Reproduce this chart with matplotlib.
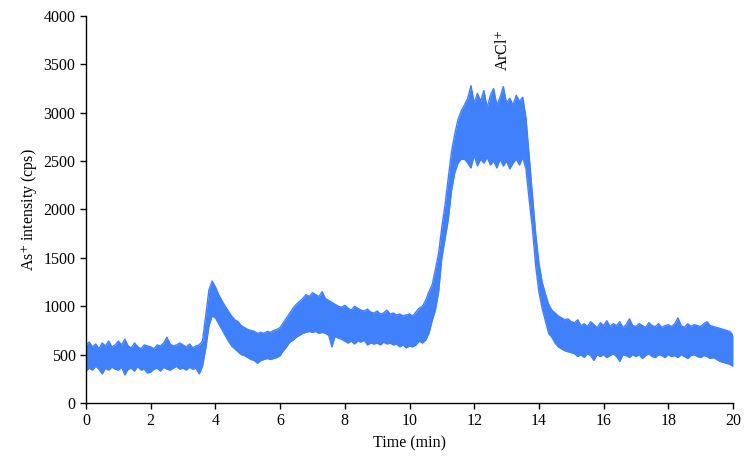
import numpy as np
import matplotlib
matplotlib.use("Agg")
import matplotlib.pyplot as plt

# Time axis, 0.1 min steps (0 .. 20 min)
time_min = np.round(np.arange(0, 20.05, 0.1), 1)

# Upper / lower edges of the noisy As+ trace (cps)
upper = [
    600, 630, 580, 610, 560, 620, 590, 640, 580, 600,   # 0
    640, 600, 660, 590, 570, 620, 580, 560, 600, 590,   # 1
    580, 560, 600, 590, 620, 680, 610, 590, 600, 620,   # 2
    600, 580, 610, 570, 590, 600, 640, 900, 1170, 1260,  # 3
    1200, 1120, 1060, 1000, 950, 900, 860, 840, 800, 780,  # 4
    760, 750, 740, 720, 730, 720, 740, 730, 750, 760,   # 5
    780, 830, 880, 930, 980, 1020, 1050, 1080, 1120, 1100,  # 6
    1140, 1120, 1100, 1150, 1080, 1060, 1040, 1020, 1000, 990,  # 7
    1010, 980, 960, 1000, 980, 960, 950, 970, 940, 930,  # 8
    950, 920, 930, 960, 920, 930, 910, 920, 900, 910,   # 9
    920, 900, 940, 980, 1000, 1060, 1150, 1220, 1380, 1550,  # 10
    1820, 2050, 2330, 2600, 2780, 2930, 3020, 3080, 3150, 3280,  # 11
    3100, 3200, 3120, 3230, 3050, 3180, 3250, 3080, 3160, 3270,  # 12
    3100, 3150, 3080, 3180, 3120, 3160, 2950, 2550, 2150, 1750,  # 13
    1450, 1250, 1130, 1020, 960, 930, 900, 880, 860, 870,  # 14
    840, 830, 860, 800, 820, 790, 840, 810, 780, 830,   # 15
    800, 850, 790, 820, 800, 840, 780, 810, 870, 800,   # 16
    790, 820, 800, 780, 830, 800, 790, 820, 780, 800,   # 17
    810, 790, 820, 880, 800, 780, 820, 790, 810, 800,   # 18
    790, 820, 840, 800, 790, 780, 770, 760, 750, 740,   # 19
    700,
]
lower = [
    330, 360, 340, 380, 350, 300, 360, 340, 370, 350,   # 0
    340, 370, 290, 350, 360, 330, 380, 340, 350, 310,   # 1
    320, 350, 360, 330, 370, 350, 340, 360, 380, 350,   # 2
    360, 340, 370, 350, 360, 300, 380, 560, 800, 900,   # 3
    880, 820, 760, 700, 640, 590, 560, 530, 500, 490,   # 4
    470, 450, 440, 410, 440, 450, 460, 450, 460, 470,   # 5
    490, 540, 580, 630, 650, 680, 700, 720, 730, 740,   # 6
    730, 740, 720, 730, 720, 700, 580, 690, 670, 660,   # 7
    640, 620, 640, 610, 640, 630, 650, 600, 620, 610,   # 8
    620, 600, 630, 610, 620, 600, 610, 580, 600, 570,   # 9
    590, 580, 600, 640, 620, 650, 720, 850, 960, 1150,  # 10
    1500, 1700, 1900, 2200, 2380, 2480, 2520, 2520, 2480, 2430,  # 11
    2560, 2450, 2520, 2480, 2540, 2460, 2500, 2430, 2520, 2450,  # 12
    2500, 2420, 2480, 2520, 2460, 2540, 2420, 2100, 1800, 1420,  # 13
    1150, 980, 850, 720, 680, 620, 580, 560, 540, 530,  # 14
    520, 510, 480, 500, 470, 510, 490, 440, 500, 480,   # 15
    500, 470, 490, 510, 480, 430, 500, 490, 470, 500,   # 16
    480, 500, 460, 490, 510, 480, 470, 500, 490, 470,   # 17
    500, 480, 490, 470, 500, 480, 460, 490, 500, 480,   # 18
    470, 490, 480, 460, 470, 450, 430, 420, 410, 400,   # 19
    380,
]

x_ticks = [0, 2, 4, 6, 8, 10, 12, 14, 16, 18, 20]
y_ticks = [0, 500, 1000, 1500, 2000, 2500, 3000, 3500, 4000]

plt.rcParams['font.family'] = ['Liberation Serif', 'DejaVu Serif']
plt.rcParams['mathtext.fontset'] = 'stix'

fig = plt.figure(figsize=(7.5, 4.62), dpi=100)
ax = fig.add_axes([0.1147, 0.1277, 0.8626, 0.8377])

color = '#4080fa'
ax.fill_between(time_min, lower, upper, color=color, linewidth=0)
ax.plot(time_min, upper, color=color, linewidth=1.0)
ax.plot(time_min, lower, color=color, linewidth=1.0)

ax.set_xlim(0, 20)
ax.set_ylim(0, 4000)
ax.set_xticks(x_ticks)
ax.set_yticks(y_ticks)
ax.tick_params(direction='out', length=4, width=1, labelsize=11.5, colors='black')
for side in ['top', 'right']:
    ax.spines[side].set_visible(False)
for side in ['left', 'bottom']:
    ax.spines[side].set_linewidth(1)

ax.set_xlabel('Time (min)', fontsize=11.5, labelpad=4)
ax.set_ylabel('As$^{+}$ intensity (cps)', fontsize=11.5, labelpad=3)

ax.text(12.89, 3640, 'ArCl$^{+}$', rotation=90, ha='center', va='center', fontsize=11.5)

fig.savefig('out.png', dpi=100)
